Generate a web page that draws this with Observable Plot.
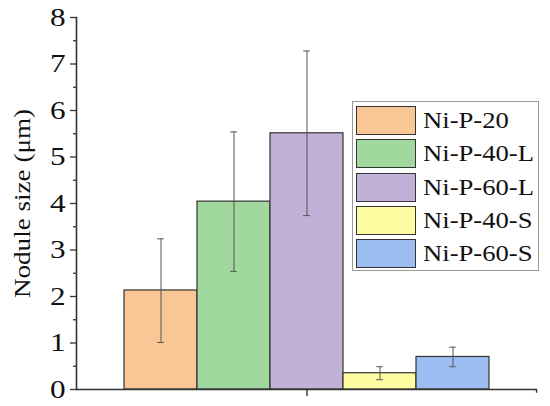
<!DOCTYPE html>
<html>
<head>
<meta charset="utf-8">
<script src="https://cdn.jsdelivr.net/npm/d3@7"></script>
<script src="https://cdn.jsdelivr.net/npm/@observablehq/plot@0.6"></script>
<style>
  html, body { margin: 0; padding: 0; background: #fff; }
  #wrap { position: relative; width: 550px; height: 406px; overflow: hidden; }
  #legend { position: absolute; left: 351.5px; top: 101px; width: 187.5px; height: 170px;
            box-sizing: border-box; border: 1px solid #999; background: #fff; }
  .sw { position: absolute; left: 3px; width: 60px; height: 29px; box-sizing: border-box; border: 1px solid #333; }
  .lb { position: absolute; left: 70px; height: 29px; line-height: 29px; font-size: 22.2px;
        font-family: "Liberation Serif"; color: #111; white-space: nowrap;
        transform: scaleX(1.2); transform-origin: left center; }
</style>
</head>
<body>
<div id="wrap"></div>
<script>
const categories = ["Ni-P-20", "Ni-P-40-L", "Ni-P-60-L", "Ni-P-40-S", "Ni-P-60-S"];
const values     = [2.13, 4.04, 5.51, 0.35, 0.70];
const errLow     = [1.01, 2.54, 3.74, 0.21, 0.49];
const errHigh    = [3.24, 5.54, 7.28, 0.49, 0.91];
const colors     = ["#F9C795", "#A0D89D", "#C2B1D7", "#FFFBA1", "#9CBDF1"];
const yTicks      = [0, 1, 2, 3, 4, 5, 6, 7, 8];
const yMinorTicks = [0.5, 1.5, 2.5, 3.5, 4.5, 5.5, 6.5, 7.5];
const yLabel = "Nodule size (μm)";

const data = categories.map((c, i) => ({cat: c, value: values[i], lo: errLow[i], hi: errHigh[i]}));

const W = 550, H = 406, mL = 76, mR = 13, mT = 17, mB = 17;
const xRange = [121.7, 490.3];
const band = (xRange[1] - xRange[0]) / categories.length;
const capHalf = 3.7;
const font = '"Liberation Serif"';
const axisColor = "#333";
const errColor = "#555";

const svg = Plot.plot({
  width: W, height: H,
  marginLeft: mL, marginRight: mR, marginTop: mT, marginBottom: mB,
  style: {fontFamily: font, fontSize: "26px", background: "#fff", color: "#111"},
  x: {domain: categories, range: xRange, padding: 0, axis: null},
  y: {domain: [0, 8], axis: null},
  color: {domain: categories, range: colors},
  marks: [
    Plot.barY(data, {x: "cat", y: "value", fill: "cat", stroke: "#333", strokeWidth: 1.2}),
    Plot.ruleX(data, {x: "cat", y1: "lo", y2: "hi", stroke: errColor, strokeWidth: 1}),
    Plot.tickY(data, {x: "cat", y: "lo", stroke: errColor, strokeWidth: 1, insetLeft: band / 2 - capHalf, insetRight: band / 2 - capHalf}),
    Plot.tickY(data, {x: "cat", y: "hi", stroke: errColor, strokeWidth: 1, insetLeft: band / 2 - capHalf, insetRight: band / 2 - capHalf}),
    Plot.ruleY([0], {stroke: axisColor, strokeWidth: 1.6}),
    Plot.ruleX([categories[2]], {y1: 0, y2: -0.15, stroke: axisColor, strokeWidth: 1.4}),
    Plot.ruleX([categories[4]], {y1: 0, y2: -0.08, stroke: axisColor, strokeWidth: 1.4, dx: (W - mR) - (xRange[1] - band / 2)}),
    Plot.frame({anchor: "left", stroke: axisColor, strokeWidth: 1.6}),
    Plot.axisY(yTicks, {tickSize: 6, tickPadding: 5, fontSize: 26, stroke: axisColor, fill: "#111", strokeWidth: 1.3}),
    Plot.axisY(yMinorTicks, {tickSize: 3, tickFormat: () => "", stroke: axisColor, strokeWidth: 1.3}),
    Plot.text([yLabel], {frameAnchor: "left", rotate: -90, textAnchor: "middle", lineAnchor: "middle", dx: -54, fontSize: 22.6, fill: "#111"})
  ]
});

svg.querySelectorAll("text").forEach(t => t.style.fontFamily = font);

// Widen the serif glyphs along their reading direction to match the reference's wider typeface
svg.querySelectorAll("text").forEach(t => {
  const tr = t.getAttribute("transform");
  if (tr) {
    t.setAttribute("transform", tr + " scale(1.2,1)");
  } else {
    const x = t.getAttribute("x") || 0, y = t.getAttribute("y") || 0;
    t.removeAttribute("x"); t.removeAttribute("y");
    t.setAttribute("transform", `translate(${x},${y}) scale(1.2,1)`);
  }
});

const wrap = document.getElementById("wrap");
wrap.appendChild(svg);

// Legend
const legend = document.createElement("div");
legend.id = "legend";
categories.forEach((c, i) => {
  const top = 4 + i * 33.3;
  const sw = document.createElement("div");
  sw.className = "sw";
  sw.style.top = top + "px";
  sw.style.background = colors[i];
  const lb = document.createElement("div");
  lb.className = "lb";
  lb.style.top = top + "px";
  lb.textContent = c;
  legend.appendChild(sw);
  legend.appendChild(lb);
});
wrap.appendChild(legend);
</script>
</body>
</html>
